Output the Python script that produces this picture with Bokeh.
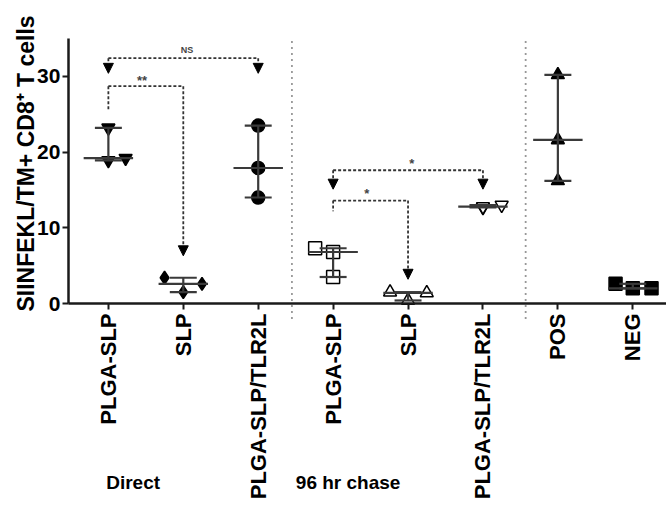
import numpy as np
from bokeh.plotting import figure
from bokeh.models import FixedTicker, Label, Arrow, NormalHead
from bokeh.core.properties import value
from bokeh.embed import file_html
from bokeh.resources import INLINE

# ---------------- data ----------------
categories = ["PLGA-SLP", "SLP", "PLGA-SLP/TLR2L",
              "PLGA-SLP", "SLP", "PLGA-SLP/TLR2L",
              "POS", "NEG"]
group_names = ["Direct", "96 hr chase"]
y_ticks = [0, 10, 20, 30]
y_title = "SIINFEKL/TM+ CD8\u207a T cells"

direct_plga_slp = [23.2, 18.9, 19.2]
direct_slp = [3.4, 1.5, 2.6]
direct_plga_slp_tlr2l = [23.5, 17.9, 14.0]
chase_plga_slp = [7.3, 6.8, 3.5]
chase_slp = [1.5, 0.4, 1.4]
chase_plga_slp_tlr2l = [12.7, 12.8, 13.0]
pos = [30.2, 21.6, 16.2]
neg = [2.6, 2.0, 2.0]

# horizontal scatter of overlapping points (category units)
jitter_direct_plga_slp = [0.0, 0.0, 0.23]
jitter_direct_slp = [-0.25, 0.0, 0.25]
jitter_direct_tlr2l = [0.0, 0.0, 0.0]
jitter_chase_plga_slp = [-0.24, 0.0, 0.0]
jitter_chase_slp = [-0.24, 0.0, 0.25]
jitter_chase_tlr2l = [0.0, 0.0, 0.25]
jitter_pos = [0.0, 0.0, 0.0]
jitter_neg = [-0.23, 0.0, 0.25]

series = [
    (direct_plga_slp, jitter_direct_plga_slp, "inverted_triangle", "black"),
    (direct_slp, jitter_direct_slp, "diamond", "black"),
    (direct_plga_slp_tlr2l, jitter_direct_tlr2l, "circle", "black"),
    (chase_plga_slp, jitter_chase_plga_slp, "square", "white"),
    (chase_slp, jitter_chase_slp, "triangle", "white"),
    (chase_plga_slp_tlr2l, jitter_chase_tlr2l, "inverted_triangle", "white"),
    (pos, jitter_pos, "triangle", "black"),
    (neg, jitter_neg, "square", "black"),
]

FONT = "Liberation Sans"
X0 = 0.467  # where the y axis sits
Y_TOP = 35

# the frame fills the whole canvas; axes are placed at fixed locations inside it
p = figure(width=666, height=505, output_backend="svg", toolbar_location=None,
           x_range=(-0.44, 8.45), y_range=(-26.68, 40.02),
           min_border_left=0, min_border_right=0, min_border_top=0,
           min_border_bottom=0)
p.outline_line_color = None
p.grid.grid_line_color = None
p.background_fill_color = "white"
p.border_fill_color = "white"

# axes
xpos = list(range(1, len(categories) + 1))
p.xaxis.fixed_location = 0
p.xaxis.bounds = (X0, 8.45)
p.xaxis.ticker = FixedTicker(ticks=xpos)
p.xaxis.major_label_overrides = {i: c for i, c in zip(xpos, categories)}
p.xaxis.major_label_orientation = np.pi / 2
p.yaxis.fixed_location = X0
p.yaxis.ticker = FixedTicker(ticks=y_ticks)
p.yaxis.bounds = (0, Y_TOP)
for ax in (p.xaxis, p.yaxis):
    ax.axis_line_width = 2.5
    ax.axis_line_color = "#1a1a1a"
    ax.major_tick_line_width = 2
    ax.major_tick_line_color = "#1a1a1a"
    ax.major_tick_in = 0
    ax.major_tick_out = 6
    ax.minor_tick_line_color = None
    ax.major_label_text_font = FONT
    ax.major_label_text_font_style = "bold"
    ax.major_label_text_color = "black"
    ax.major_label_standoff = 4
p.xaxis.major_label_text_font_size = "22px"
p.yaxis.major_label_text_font_size = "21px"
p.yaxis.major_label_standoff = 2

# y-axis title, centred on the drawn part of the axis
p.text(x=[-0.093], y=[18.5], text=[y_title], angle=np.pi / 2,
       text_font=value(FONT), text_font_style="bold", text_font_size="23px",
       text_color="black", text_align="center", text_baseline="middle")

# group separators
for xs in (3.45, 6.57):
    p.segment([xs], [34.6], [xs], [-2.2], line_color="#333333", line_width=1.8,
              line_dash="1 5")

# scatter points
for i, (vals, jit, marker, fill) in enumerate(series):
    x = [xpos[i] + j for j in jit]
    p.scatter(x, vals, marker=marker, size=13, fill_color=fill,
              line_color="black", line_width=1.5)

# median with range
for i, (vals, jit, marker, fill) in enumerate(series):
    c = xpos[i]
    med = float(np.median(vals)); lo = min(vals); hi = max(vals)
    p.segment([c - 0.33, c - 0.18, c - 0.18, c], [med, lo, hi, lo],
              [c + 0.33, c + 0.18, c + 0.18, c], [med, lo, hi, hi],
              line_color="#3a3a3a", line_width=2.2)

# significance brackets
DASH = "3 2"
BCOL = "#333333"

def head():
    return NormalHead(size=10, fill_color="black", line_color="black", line_width=1)

def bracket(x1, x2, yb, left_tip, right_tip, left_arrow, label, lx, ly, fs):
    p.segment([x1], [yb], [x2], [yb], line_color=BCOL, line_width=1.8, line_dash=DASH)
    if left_arrow:
        p.add_layout(Arrow(end=head(), x_start=x1, y_start=yb, x_end=x1, y_end=left_tip,
                           line_color=BCOL, line_width=1.8, line_dash=DASH))
    else:
        p.segment([x1], [yb], [x1], [left_tip], line_color=BCOL, line_width=1.8, line_dash=DASH)
    p.add_layout(Arrow(end=head(), x_start=x2, y_start=yb, x_end=x2, y_end=right_tip,
                       line_color=BCOL, line_width=1.8, line_dash=DASH))
    p.add_layout(Label(x=lx, y=ly, text=label, text_font=FONT, text_font_style="bold",
                       text_font_size=fs, text_color="#444444",
                       text_align="center", text_baseline="middle"))

bracket(1, 3, 32.4, 30.4, 30.4, True, "NS", 2.05, 33.5, "9px")
bracket(1, 2, 28.7, 25.5, 6.3, False, "**", 1.45, 29.5, "13px")
bracket(4, 6, 17.6, 15.1, 15.1, True, "*", 5.05, 18.5, "13px")
bracket(4, 5, 13.6, 12.2, 3.2, False, "*", 4.45, 14.5, "13px")

# group labels below the axis
p.text(x=[1.33, 4.2], y=[-23.7, -23.7], text=group_names,
       text_font=value(FONT), text_font_style="bold", text_font_size="19px",
       text_color="black", text_align="center", text_baseline="middle")

open("out.html", "w").write(file_html(p, INLINE))
